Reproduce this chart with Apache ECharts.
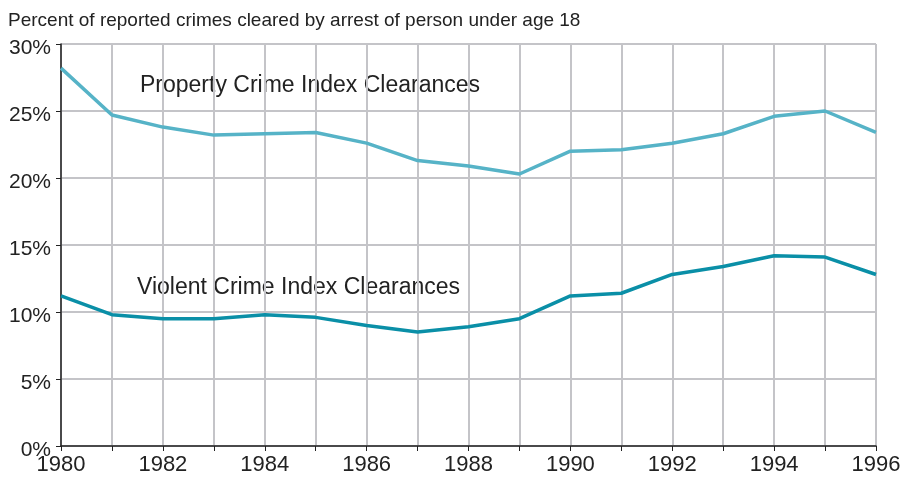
<!DOCTYPE html>
<html>
<head>
<meta charset="utf-8">
<script src="https://cdn.jsdelivr.net/npm/echarts@6/dist/echarts.min.js"></script>
<style>
  html, body { margin: 0; padding: 0; background: #fff; }
  #chart { width: 917px; height: 479px; }
</style>
</head>
<body>
<div id="chart"></div>
<script>
// years on the x axis
const years = [1980, 1981, 1982, 1983, 1984, 1985, 1986, 1987, 1988, 1989, 1990, 1991, 1992, 1993, 1994, 1995, 1996]
// percent cleared, property crime index
const propertyVals = [28.2, 24.7, 23.8, 23.2, 23.3, 23.4, 22.6, 21.3, 20.9, 20.3, 22.0, 22.1, 22.6, 23.3, 24.6, 25.0, 23.4]
// percent cleared, violent crime index
const violentVals = [11.2, 9.8, 9.5, 9.5, 9.8, 9.6, 9.0, 8.5, 8.9, 9.5, 11.2, 11.4, 12.8, 13.4, 14.2, 14.1, 12.8]

const font = 'Liberation Sans, Arial, sans-serif'

let myChart = echarts.init(document.getElementById('chart'))

let option = {
  animation: false,
  grid: { left: 61, right: 41, top: 44, bottom: 33 },
  title: {
    text: 'Percent of reported crimes cleared by arrest of person under age 18',
    left: 3,
    top: 6,
    textStyle: { fontFamily: font, fontSize: 19, fontWeight: 'normal', color: '#222' },
  },
  xAxis: {
    type: 'value',
    min: 1980,
    max: 1996,
    interval: 1,
    axisLine: { lineStyle: { color: '#222', width: 1.5 } },
    axisTick: { show: true, length: 5, lineStyle: { color: '#222' } },
    axisLabel: {
      fontFamily: font,
      fontSize: 22,
      color: '#222',
      margin: 8,
      formatter: (v) => (v % 2 === 0 ? String(v) : ''),
    },
    splitLine: { show: true, lineStyle: { color: '#c4c4c8', width: 2 } },
  },
  yAxis: {
    type: 'value',
    min: 0,
    max: 30,
    interval: 5,
    axisLine: { show: true, lineStyle: { color: '#222', width: 1.5 } },
    axisTick: { show: true, length: 5, inside: false, lineStyle: { color: '#222' } },
    axisLabel: {
      color: '#222',
      margin: 10,
      formatter: '{a|{value}%}',
      rich: {
        a: { fontFamily: font, fontSize: 21, color: '#222', padding: [8, 0, 0, 0] },
      },
    },
    splitLine: { show: true, lineStyle: { color: '#c4c4c8', width: 2 } },
  },
  graphic: [
    {
      type: 'text',
      left: 140,
      top: 74,
      style: { text: 'Property Crime Index Clearances', font: '23px ' + font, fill: '#222' },
    },
    {
      type: 'text',
      left: 137,
      top: 276,
      style: { text: 'Violent Crime Index Clearances', font: '23px ' + font, fill: '#222' },
    },
  ],
  series: [
    {
      type: 'line',
      name: 'Property',
      data: years.map((y, i) => [y, propertyVals[i]]),
      showSymbol: false,
      lineStyle: { color: '#56b3c7', width: 3.5 },
      z: 3,
    },
    {
      type: 'line',
      name: 'Violent',
      data: years.map((y, i) => [y, violentVals[i]]),
      showSymbol: false,
      lineStyle: { color: '#0a8fa7', width: 3.5 },
      z: 3,
    },
  ],
}
myChart.setOption(option)
</script>
</body>
</html>
